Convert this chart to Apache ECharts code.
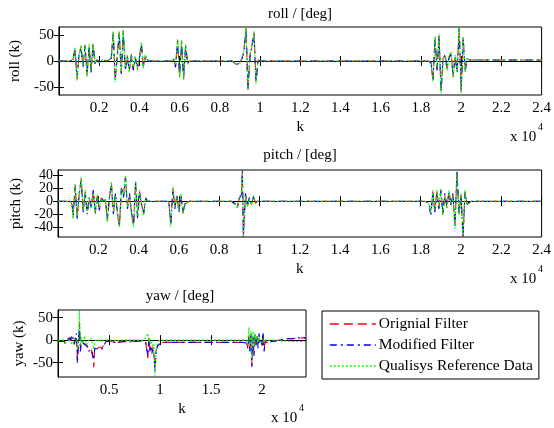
<!DOCTYPE html>
<html>
<head>
<meta charset="utf-8">
<script src="https://cdn.jsdelivr.net/npm/echarts@6/dist/echarts.min.js"></script>
<style>
  html, body { margin: 0; padding: 0; background: #fff; }
  #chart { width: 554px; height: 428px; }
</style>
</head>
<body>
<div id="chart"></div>
<script>
// sample index k and the three signals for each subplot
const kRoll = [
  0, 500, 700, 800, 900, 1000, 1100, 1200, 1300, 1400,
  1500, 1600, 1700, 1800, 1900, 2000, 2200, 2400, 2600, 2700,
  2800, 2900, 3000, 3100, 3200, 3300, 3400, 3500, 3600, 3700,
  3800, 3900, 4000, 4100, 4200, 4300, 4400, 4500, 5000, 5600,
  5700, 5800, 5900, 6000, 6100, 6200, 6300, 6400, 6500, 7000,
  8000, 8600, 8800, 8900, 9000, 9100, 9200, 9300, 9400, 9500,
  9600, 9700, 9800, 9900, 10000, 12000, 15000, 18000, 18400, 18500,
  18600, 18700, 18800, 18900, 19000, 19100, 19200, 19300, 19400, 19500,
  19600, 19700, 19800, 19900, 20000, 20100, 20200, 20300, 20400, 20500,
  21000, 24000
];
const rollOrig = [
  0, 0, 2, 25, -35, 10, 28, -10, 30, -28,
  30, -20, 32, -5, 3, -3, 2, 0, 5, 55,
  -38, 10, 55, -22, 58, -15, 10, -20, 12, -15,
  8, -15, 5, 35, -12, 10, 3, 0, 0, 0,
  5, -10, 40, -30, 38, -35, 30, -5, 0, 0,
  0, 0, -6, -8, -3, 5, 20, 64, -55, 10,
  30, 55, -40, 2, 0, 0, 0, 0, 0, -5,
  -38, 45, -15, 50, -60, 5, 10, -15, 8, 15,
  -30, 10, -20, 64, -60, 45, -20, 5, 2, 2,
  2, 2
];
const rollMod = [
  0, 0, 1, 22, -30, 12, 26, -12, 28, -25,
  28, -22, 30, -6, 2, -2, 1, 0, 4, 52,
  -35, 8, 52, -25, 55, -18, 8, -18, 10, -18,
  6, -12, 4, 32, -10, 8, 2, 0, 0, 0,
  4, -12, 38, -28, 36, -32, 28, -4, 0, 0,
  0, 0, -4, -6, -2, 4, 18, 62, -52, 8,
  28, 52, -42, 2, 0, 0, 0, 0, 0, -3,
  -35, 42, -18, 48, -58, 4, 12, -12, 6, 12,
  -28, 8, -22, 62, -58, 42, -18, 4, 2, 2,
  2, 2
];
const rollQual = [
  0, 0, 3, 27, -37, 8, 30, -8, 32, -30,
  32, -18, 34, -4, 4, -4, 3, 0, 6, 57,
  -40, 12, 57, -20, 60, -12, 12, -22, 14, -12,
  10, -18, 6, 36, -14, 12, 4, 0, 0, 0,
  6, -8, 42, -32, 40, -36, 32, -6, 0, 0,
  0, 0, -5, -7, -4, 6, 22, 65, -56, 12,
  32, 57, -44, 2, 0, 0, 0, 0, 0, -4,
  -40, 47, -12, 52, -62, 6, 8, -18, 10, 18,
  -32, 12, -18, 65, -62, 47, -22, 6, 2, 2,
  2, 2
];

const kPitch = [
  0, 600, 700, 750, 850, 950, 1050, 1150, 1250, 1350,
  1450, 1550, 1650, 1750, 1850, 1950, 2050, 2150, 2250, 2350,
  2450, 2550, 2650, 2750, 2850, 2950, 3050, 3150, 3250, 3350,
  3450, 3550, 3650, 3750, 3850, 3950, 4050, 4150, 4250, 4350,
  4450, 5000, 5500, 5600, 5700, 5800, 5900, 6000, 6100, 6200,
  6300, 6500, 7000, 8600, 8800, 8900, 9000, 9100, 9150, 9200,
  9300, 9400, 9500, 9600, 9700, 9800, 9900, 12000, 15000, 18200,
  18400, 18500, 18600, 18700, 18800, 18900, 19000, 19100, 19200, 19300,
  19400, 19500, 19600, 19700, 19800, 19900, 20000, 20100, 20200, 20300,
  20500, 24000
];
const pitchOrig = [
  0, 0, -5, -25, 25, -25, 10, 35, -15, 15,
  -18, 5, -10, 15, -18, 8, -12, 5, 0, 3,
  -30, 5, 28, -18, 10, -20, -38, 20, 8, 38,
  -10, 10, -20, -38, 30, -25, 15, -5, -20, 5,
  0, 0, 0, -38, 20, -10, 8, -15, 10, -18,
  -5, 0, 0, 0, -5, -10, 5, 12, 45, -55,
  10, -8, 5, -5, 8, -3, 0, 0, 0, 0,
  -3, -20, 15, -15, 15, -10, 18, -20, 10, -10,
  15, -5, 10, -40, 45, -20, 10, -55, 15, -5,
  0, 0
];
const pitchMod = [
  0, 0, -4, -22, 22, -27, 12, 32, -17, 13,
  -20, 6, -8, 17, -16, 6, -14, 6, 1, 2,
  -28, 6, 25, -20, 12, -18, -36, 22, 6, 36,
  -12, 12, -18, -36, 28, -27, 13, -6, -18, 4,
  0, 0, 0, -36, 18, -12, 10, -17, 8, -16,
  -4, 0, 0, 0, -4, -8, 4, 10, 47, -54,
  12, -7, 6, -4, 7, -2, 0, 0, 0, 0,
  -2, -22, 13, -17, 13, -12, 16, -18, 12, -8,
  13, -6, 12, -38, 47, -18, 8, -54, 13, -4,
  0, 0
];
const pitchQual = [
  0, 0, -6, -27, 27, -23, 8, 37, -13, 17,
  -16, 4, -12, 13, -20, 10, -10, 4, -1, 4,
  -32, 4, 30, -16, 8, -22, -40, 18, 10, 40,
  -8, 8, -22, -40, 32, -23, 17, -4, -22, 6,
  0, 0, 0, -40, 22, -8, 6, -13, 12, -20,
  -6, 0, 0, 0, -6, -12, 6, 14, 43, -55,
  8, -9, 4, -6, 9, -4, 0, 0, 0, 0,
  -4, -18, 17, -13, 17, -8, 20, -22, 8, -12,
  17, -4, 8, -42, 43, -22, 12, -53, 17, -6,
  0, 0
];

const kYaw = [
  0, 600, 700, 900, 1100, 1200, 1400, 1600, 1800, 1900,
  2000, 2100, 2200, 2300, 2400, 2600, 2800, 3000, 3200, 3400,
  3500, 3600, 3700, 3900, 4100, 4300, 4500, 4700, 5000, 5500,
  5800, 5900, 6000, 6500, 7000, 7500, 8000, 8400, 8600, 8800,
  8900, 9000, 9100, 9200, 9300, 9400, 9500, 9600, 9700, 9800,
  10000, 10200, 12000, 15000, 18000, 18400, 18600, 18700, 18800, 18900,
  19000, 19100, 19200, 19300, 19400, 19500, 19600, 19700, 19800, 19900,
  20000, 20100, 20200, 20300, 20500, 21000, 21500, 22000, 22500, 23000,
  23500, 24300
];
const yawOrig = [
  -3, -3, -8, -5, 5, -2, 5, -10, 10, -45,
  -10, 40, -20, 0, -5, -8, -10, -20, -18, -30,
  -60, -15, -20, -18, -15, -18, -10, -3, -3, -4,
  -10, -5, -4, -3, -4, -3, -2, -2, -5, -40,
  5, -20, -10, -25, -15, -30, -60, -25, -15, -10,
  -7, -5, -5, -5, -5, -5, -15, 10, -20, 15,
  -55, 5, -30, 10, -10, 8, -15, 5, -5, 0,
  -10, 10, -20, -3, -5, -3, -1, 2, 3, 3,
  5, 5
];
const yawMod = [
  -3, -3, -6, -3, 10, 0, 12, -8, 15, -52,
  -8, 30, -25, 2, -4, -10, -12, -25, -20, -35,
  -45, -18, -22, -20, -18, -20, -12, -3, -3, -4,
  -8, -4, -4, -3, -4, -3, -2, -2, -6, -35,
  3, -25, -12, -30, -20, -35, -70, -30, -18, -12,
  -8, -5, -5, -5, -5, -6, -18, 8, -25, 12,
  -60, 8, -35, 12, -12, 10, -18, 15, -8, 0,
  -12, 15, -25, -4, -5, -3, -1, 2, 3, 3,
  5, 5
];
const yawQual = [
  0, 0, -5, -3, 0, 3, -10, 5, 0, -20,
  0, 65, -10, 5, -8, 10, -10, 0, 5, -10,
  -20, -5, 0, -3, 3, -5, 0, 0, 0, 0,
  -3, 0, 0, 0, 0, 0, 0, 0, 5, 15,
  -5, 5, -10, 0, -20, -10, -80, -30, -10, -3,
  0, 0, 0, 0, 0, 0, -10, 28, -10, 20,
  -40, 20, -15, 15, -5, 10, -10, 5, 0, 0,
  -5, 5, -5, 0, 0, 0, 0, -2, -2, -3,
  -3, -3
];

// tick positions
const xTicksWide = [2000, 4000, 6000, 8000, 10000, 12000, 14000, 16000, 18000, 20000, 22000, 24000];
const xTicksYaw = [5000, 10000, 15000, 20000];
const yTicksRoll = [-50, 0, 50];
const yTicksPitch = [-40, -20, 0, 20, 40];
const yTicksYaw = [-50, 0, 50];

const seriesNames = ['Orignial Filter', 'Modified Filter', 'Qualisys Reference Data'];
const seriesColors = ['#ff0000', '#0000ff', '#00ff00'];
const dashes = [[9, 5], [7, 4, 2, 4], [2, 2]];

const FONT = 'Liberation Serif';
const chart = echarts.init(document.getElementById('chart'), null, { renderer: 'canvas' });

const panels = [
  { k: kRoll, vals: [rollOrig, rollMod, rollQual], yMin: -65, yMax: 65, yTicks: yTicksRoll,
    xMax: 24000, xTicks: xTicksWide, yName: 'roll (k)',
    grid: { left: 58, top: 27, width: 485, height: 68 } },
  { k: kPitch, vals: [pitchOrig, pitchMod, pitchQual], yMin: -55, yMax: 48, yTicks: yTicksPitch,
    xMax: 24000, xTicks: xTicksWide, yName: 'pitch (k)',
    grid: { left: 58, top: 170, width: 485, height: 67 } },
  { k: kYaw, vals: [yawOrig, yawMod, yawQual], yMin: -82, yMax: 67, yTicks: yTicksYaw,
    xMax: 24300, xTicks: xTicksYaw, yName: 'yaw (k)',
    grid: { left: 58, top: 310, width: 248, height: 67 } }
];

const fmtK = v => String(+(v / 10000).toFixed(3));
const labelStyle = { fontFamily: FONT, fontSize: 15, color: '#000' };

const grids = [], xAxes = [], yAxes = [], series = [];
panels.forEach((p, i) => {
  grids.push(Object.assign({ show: true, borderColor: '#000', borderWidth: 1 }, p.grid));
  const tick = vals => ({ inside: true, length: 5, lineStyle: { color: '#000' }, customValues: vals });
  const lbl = vals => Object.assign({
    customValues: vals, margin: 5, hideOverlap: false, showMinLabel: true, showMaxLabel: true
  }, labelStyle);

  const xIdx = xAxes.length;
  xAxes.push({
    type: 'value', gridIndex: i, min: 0, max: p.xMax, position: 'bottom',
    axisLine: { lineStyle: { color: '#000' } },
    axisTick: tick(p.xTicks),
    axisLabel: Object.assign(lbl(p.xTicks), { formatter: fmtK, margin: 6 }),
    splitLine: { show: false },
    name: 'k', nameLocation: 'middle', nameGap: 25, nameTextStyle: labelStyle
  });
  xAxes.push({
    type: 'value', gridIndex: i, min: 0, max: p.xMax, position: 'top',
    axisLine: { lineStyle: { color: '#000' } },
    axisTick: tick(p.xTicks), axisLabel: { show: false }, splitLine: { show: false }
  });

  // tightly packed labels are split over two stacked left axes so none gets dropped
  const packed = p.yTicks.length > 3;
  const labA = packed ? p.yTicks.filter((_, j) => j % 2 === 0) : p.yTicks;
  const labB = packed ? p.yTicks.filter((_, j) => j % 2 === 1) : [];

  const yIdx = yAxes.length;
  yAxes.push({
    type: 'value', gridIndex: i, min: p.yMin, max: p.yMax, position: 'left',
    axisLine: { lineStyle: { color: '#000' } },
    axisTick: tick(p.yTicks),
    axisLabel: Object.assign(lbl(labA), { fontSize: packed ? 14 : 15 }),
    splitLine: { show: false },
    name: p.yName, nameLocation: 'middle', nameGap: 31, nameTextStyle: labelStyle
  });
  yAxes.push({
    type: 'value', gridIndex: i, min: p.yMin, max: p.yMax, position: 'right',
    axisLine: { lineStyle: { color: '#000' } },
    axisTick: tick(p.yTicks), axisLabel: { show: false }, splitLine: { show: false }
  });
  if (packed) {
    yAxes.push({
      type: 'value', gridIndex: i, min: p.yMin, max: p.yMax, position: 'left', offset: 0,
      axisLine: { show: false }, axisTick: { show: false },
      axisLabel: Object.assign(lbl(labB), { fontSize: 14 }),
      splitLine: { show: false }
    });
  }

  p.vals.forEach((vals, s) => {
    series.push({
      name: seriesNames[s], type: 'line',
      xAxisIndex: xIdx, yAxisIndex: yIdx,
      data: p.k.map((k, j) => [k, vals[j]]),
      symbol: 'none', clip: true, animation: false,
      lineStyle: { color: seriesColors[s], width: 1.1, type: dashes[s] },
      itemStyle: { color: seriesColors[s] }
    });
  });
});

const txt = (x, y, text, size, align) => ({
  type: 'text', x, y,
  style: { text, fontFamily: FONT, fontSize: size || 15, fill: '#000', align: align || 'left', verticalAlign: 'middle' }
});

chart.setOption({
  backgroundColor: '#fff',
  animation: false,
  grid: grids,
  xAxis: xAxes,
  yAxis: yAxes,
  series,
  legend: {
    data: seriesNames, orient: 'vertical', left: 322, top: 311,
    borderColor: '#000', borderWidth: 1, borderRadius: 0,
    padding: [5, 6, 5, 7], itemGap: 5, itemWidth: 46, itemHeight: 15,
    itemStyle: { color: 'transparent', borderColor: 'transparent', borderWidth: 0 },
    lineStyle: { width: 1.6 },
    textStyle: { fontFamily: FONT, fontSize: 15.5, color: '#000', padding: [0, 0, 0, -2] }
  },
  graphic: [
    txt(300, 14, 'roll / [deg]', 15, 'center'),
    txt(300, 155, 'pitch / [deg]', 15, 'center'),
    txt(180, 296, 'yaw / [deg]', 15, 'center'),
    txt(510, 137, 'x 10'), txt(538, 127, '4', 10),
    txt(510, 279, 'x 10'), txt(538, 269, '4', 10),
    txt(271, 418, 'x 10'), txt(299, 408, '4', 10)
  ]
});
</script>
</body>
</html>
